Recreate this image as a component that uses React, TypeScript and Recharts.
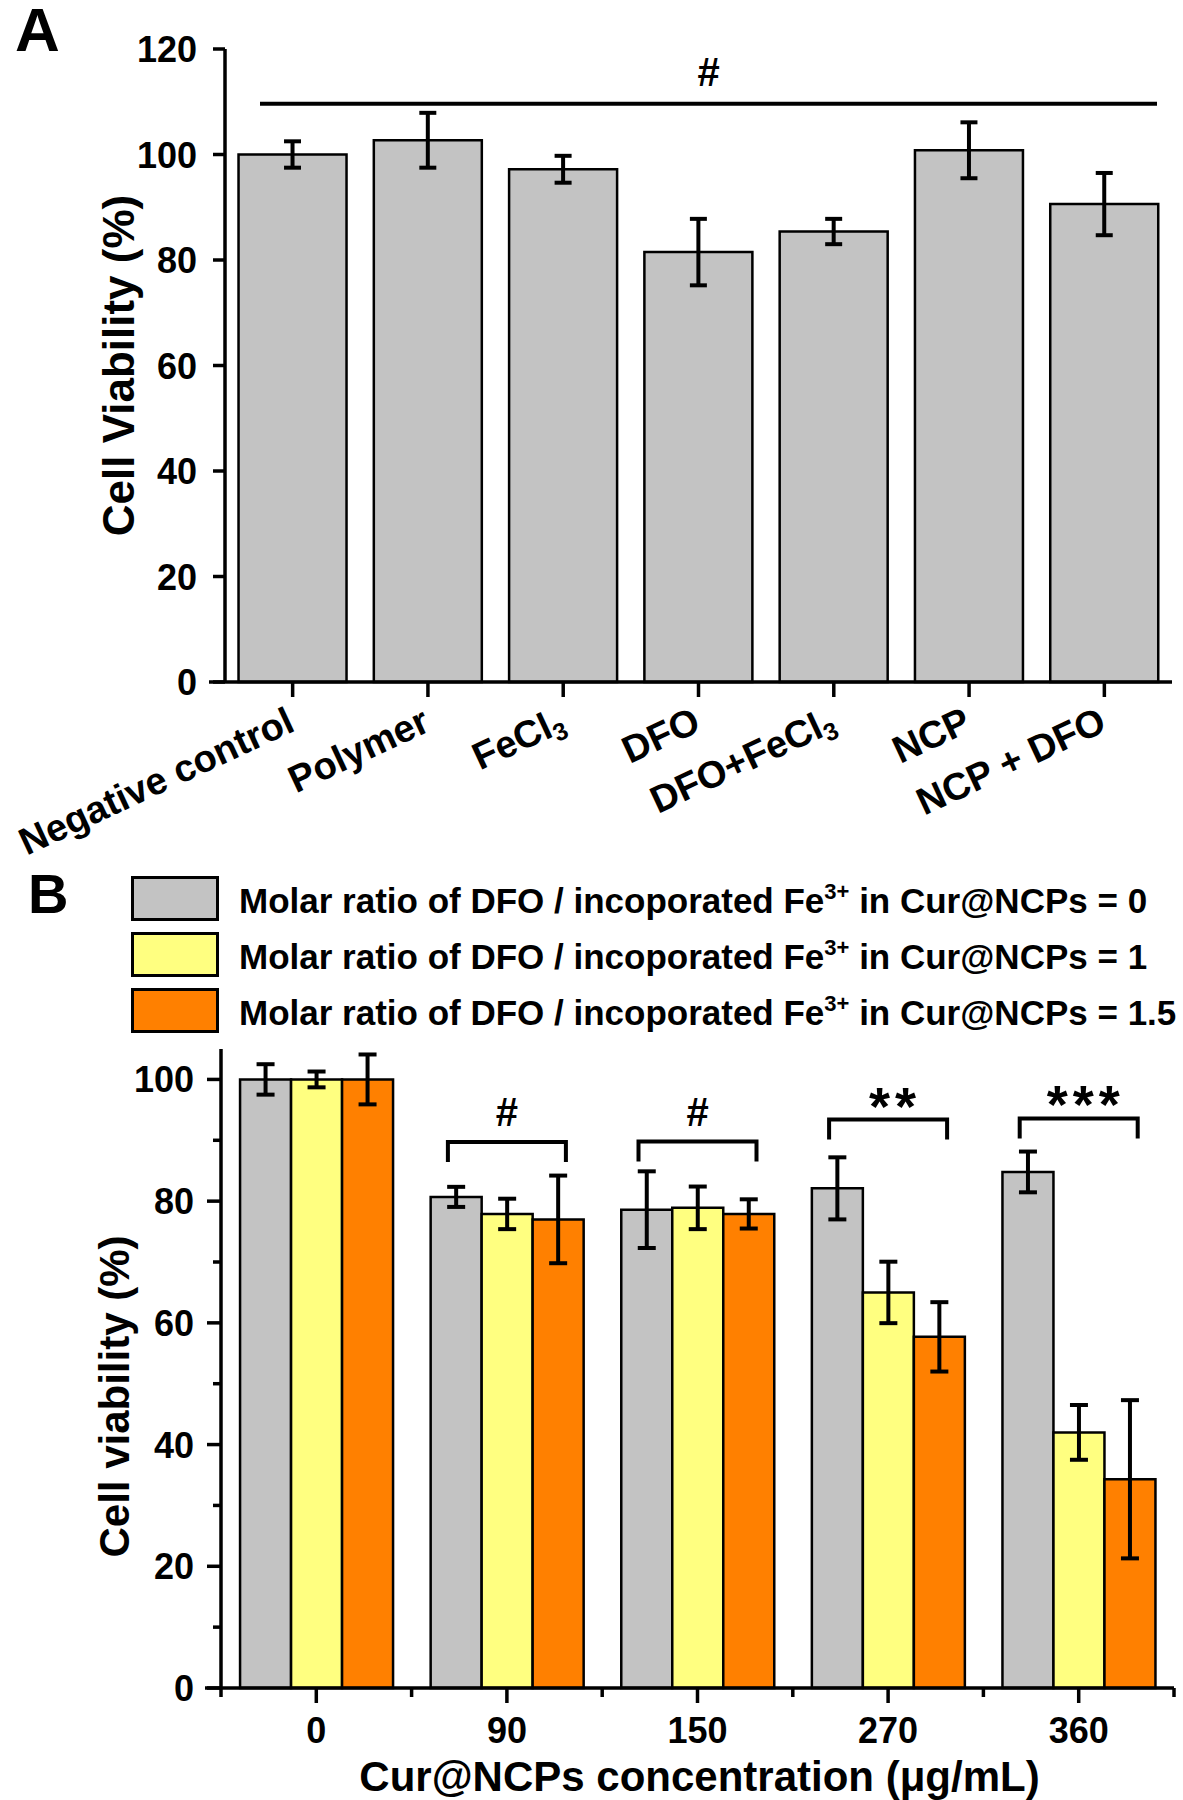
import React from "react";
import {
  BarChart,
  ComposedChart,
  Bar,
  Scatter,
  XAxis,
  YAxis,
  ErrorBar,
  Legend,
  ReferenceLine,
} from "recharts";

const FONT = "'Liberation Sans', Arial, Helvetica, sans-serif";

// panel A: viability of each treatment
const treatments = ["Negative control", "Polymer", "FeCl3", "DFO", "DFO+FeCl3", "NCP", "NCP + DFO"];
const viabilityA = [100, 102.7, 97.2, 81.5, 85.4, 100.8, 90.6];
const errorA = [2.5, 5.2, 2.55, 6.3, 2.4, 5.3, 5.9];
const ticksA = [0, 20, 40, 60, 80, 100, 120];
const sigLevelA = 109.6;

// panel B: viability vs Cur@NCPs concentration
const concentrations = ["0", "90", "150", "270", "360"];
const ratio0 = [100, 80.7, 78.6, 82.1, 84.8];
const ratio0Err = [2.5, 1.65, 6.3, 5.1, 3.35];
const ratio1 = [100, 77.9, 78.9, 65.0, 42.0];
const ratio1Err = [1.3, 2.5, 3.5, 5.05, 4.5];
const ratio15 = [100, 77.0, 77.9, 57.7, 34.3];
const ratio15Err = [4.1, 7.2, 2.4, 5.7, 13.0];
const bracketLevel = [null, 89.7, 89.8, 93.4, 93.6];
const bracketMark = ["", "#", "#", "**", "***"];
const ticksB = [0, 10, 20, 30, 40, 50, 60, 70, 80, 90, 100];
const ratioNames = ["0", "1", "1.5"];
const ratioColors = ["#c3c3c3", "#ffff80", "#ff8000"];

const dataA = treatments.map((name, i) => ({ name, v: viabilityA[i], e: errorA[i] }));
const dataB = concentrations.map((c, i) => ({
  c,
  r0: ratio0[i],
  e0: ratio0Err[i],
  r1: ratio1[i],
  e1: ratio1Err[i],
  r15: ratio15[i],
  e15: ratio15Err[i],
  sig: bracketLevel[i],
  mark: bracketMark[i],
}));

const AXIS = { stroke: "#000", strokeWidth: 3.5 };
const B_BAND = (1174 - 221) / concentrations.length;

const withSub = (label: string, size: number) =>
  label.endsWith("FeCl3") ? (
    <>
      {label.slice(0, -1)}
      <tspan fontSize={size * 0.65} dy={7}>3</tspan>
    </>
  ) : (
    label
  );

const TickA = (props: any) => {
  const { x, y, payload } = props;
  return (
    <g>
      <line x1={x} x2={x} y1={y} y2={y + 15} stroke="#000" strokeWidth={3.5} />
      <text
        transform={`translate(${x + 4},${y + 48}) rotate(-25)`}
        textAnchor="end"
        fontSize={38}
        fontWeight="bold"
        fontFamily={FONT}
        fill="#000"
      >
        {withSub(payload.value, 38)}
      </text>
    </g>
  );
};

const YTickA = (props: any) => {
  const { x, y, payload } = props;
  return (
    <g>
      <line x1={x - 12} x2={x} y1={y} y2={y} stroke="#000" strokeWidth={3.5} />
      <text x={x - 28} y={y} dy={13} textAnchor="end" fontSize={36} fontWeight="bold" fontFamily={FONT} fill="#000">
        {payload.value}
      </text>
    </g>
  );
};

const TickB = (props: any) => {
  const { x, y, payload, index } = props;
  const last = index === concentrations.length - 1;
  return (
    <g>
      <line x1={x} x2={x} y1={y} y2={y + 15} stroke="#000" strokeWidth={3.5} />
      <line x1={x - B_BAND / 2} x2={x - B_BAND / 2} y1={y} y2={y + 9} stroke="#000" strokeWidth={3.5} />
      {last && <line x1={x + B_BAND / 2} x2={x + B_BAND / 2} y1={y} y2={y + 9} stroke="#000" strokeWidth={3.5} />}
      <text x={x} y={y + 55} textAnchor="middle" fontSize={36} fontWeight="bold" fontFamily={FONT} fill="#000">
        {payload.value}
      </text>
    </g>
  );
};

const YTickB = (props: any) => {
  const { x, y, payload } = props;
  const major = payload.value % 20 === 0;
  return (
    <g>
      <line x1={x - (major ? 14 : 8)} x2={x} y1={y} y2={y} stroke="#000" strokeWidth={3.5} />
      {major && (
        <text x={x - 27} y={y} dy={13} textAnchor="end" fontSize={36} fontWeight="bold" fontFamily={FONT} fill="#000">
          {payload.value}
        </text>
      )}
    </g>
  );
};

const Bracket = (props: any) => {
  const { cx, cy, payload } = props;
  if (!payload || !payload.mark || cy == null || isNaN(cy)) return <g />;
  const half = 59;
  const star = payload.mark.includes("*");
  return (
    <g>
      <path
        d={`M${cx - half},${cy + 20} V${cy} H${cx + half} V${cy + 20}`}
        fill="none"
        stroke="#000"
        strokeWidth={4}
      />
      <text
        x={cx + (star ? 7 : 0)}
        y={star ? cy + 5 : cy - 16}
        textAnchor="middle"
        fontSize={star ? 54 : 40}
        fontWeight="bold"
        fontFamily={FONT}
        letterSpacing={star ? 5 : 0}
        fill="#000"
      >
        {payload.mark}
      </text>
    </g>
  );
};

const LegendB = (props: any) => {
  const items = (props.payload || []).filter((p: any) => p.type !== "none");
  return (
    <svg width={1060} height={170} style={{ overflow: "visible" }}>
      {items.map((item: any, i: number) => (
        <g key={i} transform={`translate(0,${i * 56})`}>
          <rect x={1.5} y={1.5} width={85} height={42} fill={item.color} stroke="#000" strokeWidth={3} />
          <text x={108} y={37} fontSize={35} fontWeight="bold" fontFamily={FONT} fill="#000">
            Molar ratio of DFO / incoporated Fe
            <tspan fontSize={22} dy={-14}>3+</tspan>
            <tspan dy={14}> in Cur@NCPs = {item.value}</tspan>
          </text>
        </g>
      ))}
    </svg>
  );
};

export default function App() {
  return (
    <div style={{ position: "absolute", left: 0, top: 0, width: 1183, height: 1800, background: "#fff", fontFamily: FONT }}>
      <style>{`.recharts-surface{overflow:visible}`}</style>

      <div style={{ position: "absolute", left: 0, top: 0 }}>
        <BarChart
          width={1183}
          height={870}
          data={dataA}
          margin={{ top: 49, right: 11, left: 0, bottom: 0 }}
          barCategoryGap="10%"
        >
          <XAxis
            dataKey="name"
            height={188}
            interval={0}
            tickSize={0}
            tickMargin={0}
            tickLine={false}
            axisLine={AXIS}
            tick={<TickA />}
          />
          <XAxis xAxisId="top" orientation="top" dataKey="name" height={0} tick={false} tickLine={false} axisLine={AXIS} />
          <YAxis
            width={225}
            domain={[0, 120]}
            ticks={ticksA}
            interval={0}
            tickSize={0}
            tickMargin={0}
            tickLine={false}
            axisLine={AXIS}
            tick={<YTickA />}
            label={(p: any) => {
              const vb = p.viewBox || { x: 0, y: 49, width: 225, height: 633 };
              const cy = vb.y + vb.height / 2;
              return (
                <text
                  transform={`translate(${vb.x + 134},${cy}) rotate(-90)`}
                  textAnchor="middle"
                  fontSize={44}
                  fontWeight="bold"
                  fontFamily={FONT}
                  fill="#000"
                >
                  Cell Viability (%)
                </text>
              );
            }}
          />
          <YAxis yAxisId="right" orientation="right" width={0} domain={[0, 120]} tick={false} tickLine={false} axisLine={AXIS} />
          <Bar dataKey="v" fill="#c3c3c3" stroke="#000" strokeWidth={2.5} isAnimationActive={false}>
            <ErrorBar dataKey="e" width={8.5} stroke="#000" strokeWidth={4} isAnimationActive={false} />
          </Bar>
          <ReferenceLine
            y={0}
            ifOverflow="visible"
            shape={(p: any) => <line x1={p.x1 - 16} x2={p.x1} y1={p.y1} y2={p.y1} stroke="#000" strokeWidth={3.5} />}
          />
          <ReferenceLine
            y={sigLevelA}
            shape={(p: any) => (
              <g>
                <line x1={p.x1 + 35} x2={p.x2 - 15} y1={p.y1} y2={p.y1} stroke="#000" strokeWidth={4} />
                <text
                  x={(p.x1 + 35 + p.x2 - 15) / 2}
                  y={p.y1 - 18}
                  textAnchor="middle"
                  fontSize={40}
                  fontWeight="bold"
                  fontFamily={FONT}
                  fill="#000"
                >
                  #
                </text>
              </g>
            )}
          />
        </BarChart>
      </div>

      <div style={{ position: "absolute", left: 0, top: 870 }}>
        <ComposedChart
          width={1183}
          height={930}
          data={dataB}
          margin={{ top: 179, right: 9, left: 0, bottom: 0 }}
          barCategoryGap="10%"
          barGap={0}
        >
          <XAxis
            dataKey="c"
            height={112}
            interval={0}
            tickSize={0}
            tickMargin={0}
            tickLine={false}
            axisLine={AXIS}
            tick={<TickB />}
            label={(p: any) => {
              const vb = p.viewBox || { x: 221, y: 818, width: 953, height: 112 };
              return (
                <text
                  x={vb.x + vb.width / 2 + 2}
                  y={vb.y + 103}
                  textAnchor="middle"
                  fontSize={42}
                  fontWeight="bold"
                  fontFamily={FONT}
                  fill="#000"
                >
                  Cur@NCPs concentration (μg/mL)
                </text>
              );
            }}
          />
          <XAxis xAxisId="top" orientation="top" dataKey="c" height={0} tick={false} tickLine={false} axisLine={AXIS} />
          <YAxis
            width={221}
            domain={[0, 105]}
            ticks={ticksB}
            interval={0}
            tickSize={0}
            tickMargin={0}
            tickLine={false}
            axisLine={AXIS}
            tick={<YTickB />}
            label={(p: any) => {
              const vb = p.viewBox || { x: 0, y: 179, width: 221, height: 639 };
              const cy = vb.y + vb.height / 2 + 28;
              return (
                <text
                  transform={`translate(${vb.x + 129},${cy}) rotate(-90)`}
                  textAnchor="middle"
                  fontSize={42}
                  fontWeight="bold"
                  fontFamily={FONT}
                  fill="#000"
                >
                  Cell viability (%)
                </text>
              );
            }}
          />
          <YAxis yAxisId="right" orientation="right" width={0} domain={[0, 105]} tick={false} tickLine={false} axisLine={AXIS} />
          <Legend
            layout="vertical"
            align="center"
            verticalAlign="middle"
            content={<LegendB />}
            wrapperStyle={{ top: 6, left: 131, width: 1060, height: 170 }}
          />
          <Bar dataKey="r0" name={ratioNames[0]} fill={ratioColors[0]} stroke="#000" strokeWidth={2.5} isAnimationActive={false}>
            <ErrorBar dataKey="e0" width={9} stroke="#000" strokeWidth={4} isAnimationActive={false} />
          </Bar>
          <Bar dataKey="r1" name={ratioNames[1]} fill={ratioColors[1]} stroke="#000" strokeWidth={2.5} isAnimationActive={false}>
            <ErrorBar dataKey="e1" width={9} stroke="#000" strokeWidth={4} isAnimationActive={false} />
          </Bar>
          <Bar dataKey="r15" name={ratioNames[2]} fill={ratioColors[2]} stroke="#000" strokeWidth={2.5} isAnimationActive={false}>
            <ErrorBar dataKey="e15" width={9} stroke="#000" strokeWidth={4} isAnimationActive={false} />
          </Bar>
          <Scatter dataKey="sig" legendType="none" shape={<Bracket />} isAnimationActive={false} />
          <ReferenceLine
            y={0}
            ifOverflow="visible"
            shape={(p: any) => <line x1={p.x1 - 16} x2={p.x1} y1={p.y1} y2={p.y1} stroke="#000" strokeWidth={3.5} />}
          />
        </ComposedChart>
      </div>

      <svg width={1183} height={1800} style={{ position: "absolute", left: 0, top: 0, pointerEvents: "none" }}>
        <text x={15} y={51} fontSize={62} fontWeight="bold" fontFamily={FONT} fill="#000">A</text>
        <text x={28} y={913} fontSize={56} fontWeight="bold" fontFamily={FONT} fill="#000">B</text>
      </svg>
    </div>
  );
}
